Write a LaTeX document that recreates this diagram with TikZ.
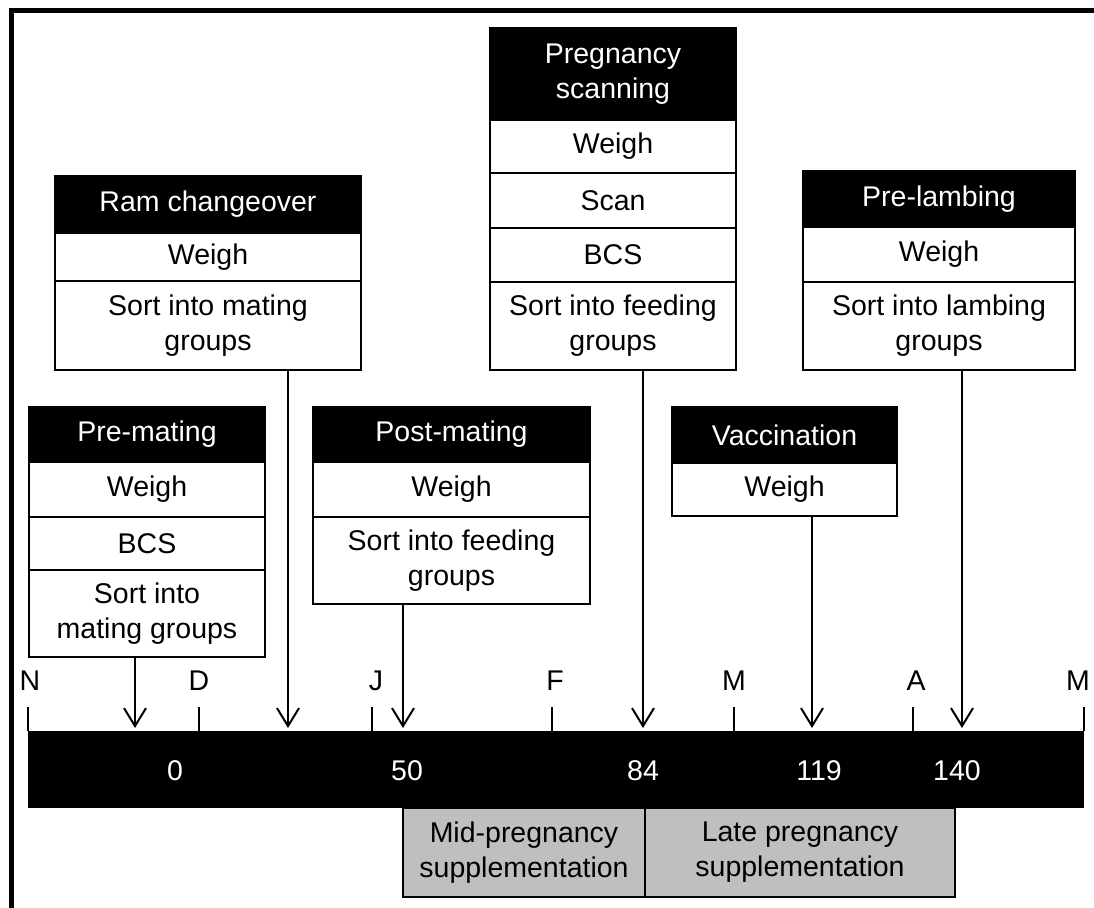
\documentclass[tikz,border=0pt]{standalone}
\usepackage{fontspec}
\setmainfont{Liberation Sans}
\usetikzlibrary{arrows.meta}

\tikzset{
  lbl/.style={font=\fontsize{28.5}{35}\selectfont, align=center, inner sep=0pt},
  hdr/.style={lbl, draw=black, line width=2pt, fill=black, text=white},
  cell/.style={lbl, draw=black, line width=2pt, fill=white, text=black},
  supp/.style={lbl, draw=black, line width=2pt, fill=black!25},
  arr/.style={line width=2pt, -{Straight Barb[length=18pt,width=22pt,line width=2pt]}},
  tick/.style={line width=2pt},
  month/.style={lbl, anchor=base},
  day/.style={lbl, anchor=base, text=white},
}

\begin{document}
\begin{tikzpicture}[x=1pt, y=-1pt]
\useasboundingbox (0,0) rectangle (1094,907);
\clip (0,0) rectangle (1094,907);
\fill[white] (0,0) rectangle (1094,907);

% outer frame: only the top and left edges show
\draw[line width=5pt] (11.5,920) -- (11.5,10.5) -- (1110,10.5);

% timeline bar
\node[fill=black, minimum width=1056pt, minimum height=77pt, inner sep=0pt] (bar) at (556,769.5) {};

% month ticks
\foreach \x/\n in {28/tN, 199/tD, 372/tJ, 552/tF, 734/tM, 913/tA, 1084/tM2} {
  \coordinate (\n) at (\x,707);
  \draw[tick] (\n) -- (\n |- bar.north);
}

% month letters
\foreach \x/\m in {30/N, 199/D, 376/J, 555/F, 734/M, 916/A, 1078/M} {
  \node[month] at (\x,690) {\m};
}

% day numbers
\foreach \x/\d in {175/0, 407/50, 643/84, 819/119, 957/140} {
  \node[day] at (\x,780) {\d};
}

% supplementation periods
\node[supp, minimum width=242pt, minimum height=89pt] (mid) at (524,852.5) {Mid-pregnancy\\supplementation};
\node[supp, minimum width=310pt, minimum height=89pt] (late) at (800,852.5) {Late pregnancy\\supplementation};

% Pre-mating
\node[hdr,  minimum width=236pt, minimum height=55pt] (pm1) at (147,434.5) {Pre-mating};
\node[cell, minimum width=236pt, minimum height=55pt] (pm2) at (147,489.5) {Weigh};
\node[cell, minimum width=236pt, minimum height=53pt] (pm3) at (147,543.5) {BCS};
\node[cell, minimum width=236pt, minimum height=87pt] (pm4) at (147,613.5) {Sort into\\mating groups};

% Ram changeover
\node[hdr,  minimum width=306pt, minimum height=57pt] (rc1) at (208,204.5) {Ram changeover};
\node[cell, minimum width=306pt, minimum height=48pt] (rc2) at (208,257) {Weigh};
\node[cell, minimum width=306pt, minimum height=89pt] (rc3) at (208,325.5) {Sort into mating\\groups};

% Post-mating
\node[hdr,  minimum width=277pt, minimum height=55pt] (po1) at (451.5,434.5) {Post-mating};
\node[cell, minimum width=277pt, minimum height=55pt] (po2) at (451.5,489.5) {Weigh};
\node[cell, minimum width=277pt, minimum height=87pt] (po3) at (451.5,560.5) {Sort into feeding\\groups};

% Pregnancy scanning
\node[hdr,  minimum width=246pt, minimum height=92pt] (ps1) at (613,74) {Pregnancy\\scanning};
\node[cell, minimum width=246pt, minimum height=53pt] (ps2) at (613,146.5) {Weigh};
\node[cell, minimum width=246pt, minimum height=55pt] (ps3) at (613,200.5) {Scan};
\node[cell, minimum width=246pt, minimum height=54pt] (ps4) at (613,255) {BCS};
\node[cell, minimum width=246pt, minimum height=88pt] (ps5) at (613,326) {Sort into feeding\\groups};

% Vaccination
\node[hdr,  minimum width=225pt, minimum height=56pt] (va1) at (784.5,435) {Vaccination};
\node[cell, minimum width=225pt, minimum height=53pt] (va2) at (784.5,489.5) {Weigh};

% Pre-lambing
\node[hdr,  minimum width=272pt, minimum height=56pt] (pl1) at (939,199) {Pre-lambing};
\node[cell, minimum width=272pt, minimum height=55pt] (pl2) at (939,254.5) {Weigh};
\node[cell, minimum width=272pt, minimum height=88pt] (pl3) at (939,326) {Sort into lambing\\groups};

% arrow targets on the timeline
\coordinate (e1) at (135,728);
\coordinate (e2) at (288,728);
\coordinate (e3) at (403,728);
\coordinate (e4) at (643,728);
\coordinate (e5) at (812,728);
\coordinate (e6) at (962,728);

\draw[arr] (pm4.south -| e1) -- (e1);
\draw[arr] (rc3.south -| e2) -- (e2);
\draw[arr] (po3.south -| e3) -- (e3);
\draw[arr] (ps5.south -| e4) -- (e4);
\draw[arr] (va2.south -| e5) -- (e5);
\draw[arr] (pl3.south -| e6) -- (e6);
\end{tikzpicture}
\end{document}
